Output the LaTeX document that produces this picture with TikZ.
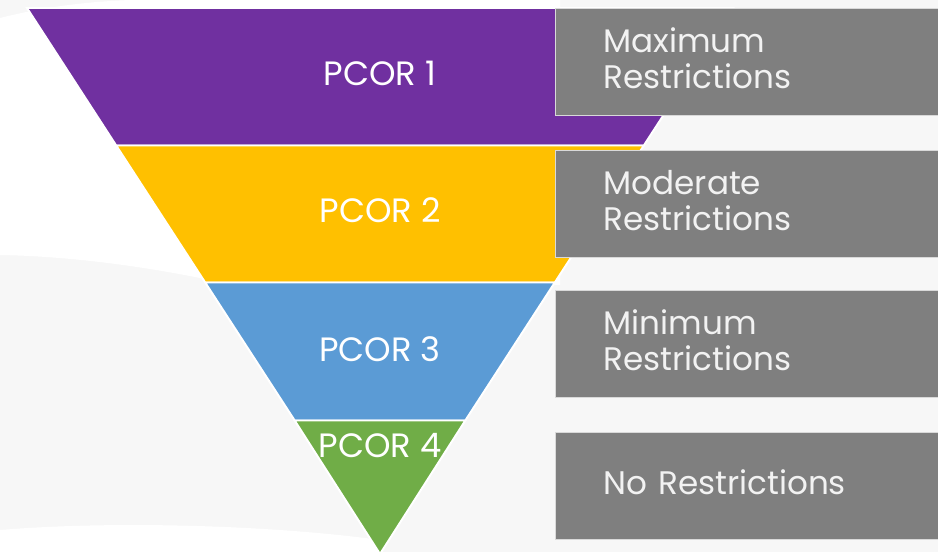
\documentclass[tikz,border=0pt]{standalone}
\usepackage{fontspec}
\setmainfont{Poppins}
\definecolor{pcorPurple}{HTML}{7030A0}
\definecolor{pcorYellow}{HTML}{FFC000}
\definecolor{pcorBlue}{HTML}{5B9BD5}
\definecolor{pcorGreen}{HTML}{70AD47}
\definecolor{boxGray}{HTML}{7F7F7F}
\definecolor{bgGray}{HTML}{F7F7F7}
\begin{document}
\begin{tikzpicture}[
    x=0.025cm, y=-0.025cm,
    band/.style={draw=white, line width=1.4pt, line join=miter},
    lvl/.style={text=white, font=\fontsize{24}{28}\selectfont, inner sep=0pt},
    rbox/.style={rectangle, draw=black!15, fill=boxGray, line width=0.8pt, anchor=north west,
        minimum width=9.6cm, minimum height=2.675cm, inner xsep=1.2cm, text width=7.2cm,
        text depth=1.1cm, align=left, text=black!5, font=\fontsize{23.2}{25.6}\selectfont}
]
\useasboundingbox (0,0) rectangle (938,552);
\clip (0,0) rectangle (938,552);
% background
\fill[bgGray] (0,0) rectangle (938,552);
\fill[white] (0,18) .. controls (40,8) and (80,2) .. (130,0) -- (560,0) -- (560,285)
    -- (200,278) .. controls (130,264) and (60,256) .. (0,255) -- cycle;
\fill[white] (0,530) .. controls (120,520) and (280,526) .. (380,540) -- (380,552) -- (0,552) -- cycle;
% funnel bands
\filldraw[band, fill=pcorPurple] (27,8) -- (733,8) -- (643.8,145.5) -- (116.2,145.5) -- cycle;
\filldraw[band, fill=pcorYellow] (116.2,145.5) -- (643.8,145.5) -- (554.8,282.5) -- (205.2,282.5) -- cycle;
\filldraw[band, fill=pcorBlue] (205.2,282.5) -- (554.8,282.5) -- (465.3,420.5) -- (294.7,420.5) -- cycle;
\filldraw[band, fill=pcorGreen] (294.7,420.5) -- (465.3,420.5) -- (380,554) -- cycle;
\node[lvl] (pcor1) at (380,73) {PCOR 1};
\node[lvl] (pcor2) at (380,210) {PCOR 2};
\node[lvl] (pcor3) at (380,349) {PCOR 3};
\node[lvl] (pcor4) at (380,446) {PCOR 4};
% restriction boxes
\node[rbox] (rmax) at (555,8) {Maximum\\Restrictions};
\node[rbox] (rmod) at (555,150) {Moderate\\Restrictions};
\node[rbox] (rmin) at (555,290) {Minimum\\Restrictions};
\node[rbox, text depth=0.2cm] (rnone) at (555,432) {No Restrictions};
\end{tikzpicture}
\end{document}
